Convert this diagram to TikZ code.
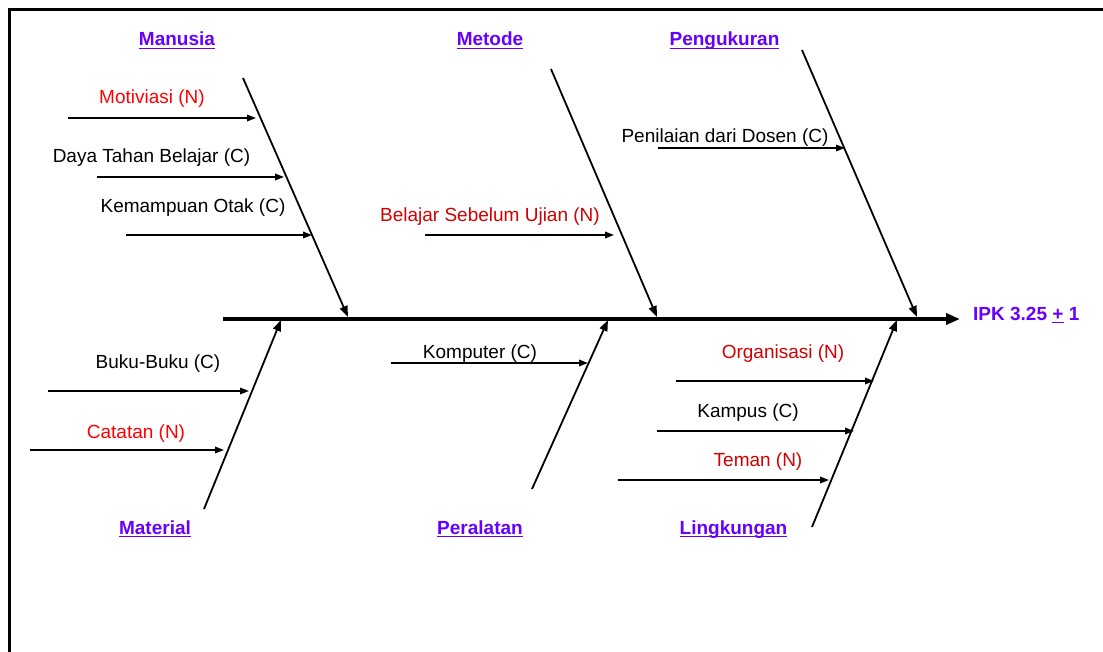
\documentclass[tikz,border=0pt]{standalone}
\usepackage{fontspec}
\setmainfont{Liberation Sans}
\usetikzlibrary{arrows.meta}
\definecolor{fbPurple}{RGB}{102,0,255}
\definecolor{fbRed}{RGB}{255,0,0}
\definecolor{fbDark}{RGB}{210,0,0}
\newcommand{\headul}[1]{\setbox0\hbox{#1}\rlap{\rule[-3.2pt]{\wd0}{1.6pt}}\box0\relax}

\begin{document}
\begin{tikzpicture}[x=1pt,y=-1pt,
  cause/.style={font=\fontsize{19}{22}\selectfont, anchor=base, inner sep=0pt},
  head/.style={font=\fontsize{19}{22}\selectfont\bfseries, anchor=base, inner sep=0pt, text=fbPurple},
  bone/.style={line width=1.8pt, -{Triangle[length=11pt,width=8pt]}},
  twig/.style={line width=1.7pt, -{Triangle[length=9pt,width=6.5pt]}}]
  \useasboundingbox (0,0) rectangle (1103,652);
  % Frame
  \draw[line width=3pt] (9,652) -- (9,10) -- (1103,10);

  % Spine and effect
  \coordinate (tail) at (223,319);
  \coordinate (effect) at (960,319);
  \draw[line width=3.5pt, -{Triangle[length=14pt,width=11pt]}] (tail) -- (effect);
  \node[head, anchor=base west] (ipk) at (973,320) {IPK 3.25 \headul{+} 1};

  % Manusia
  \node[head] (manusia) at (177,46) {\headul{Manusia}};
  \coordinate (manS) at (243,78);
  \coordinate (manE) at (348,317);
  \draw[bone] (manS) -- (manE);
  \node[cause, text=fbRed] (motiv) at (152,104) {Motiviasi (N)};
  \coordinate (motivS) at (68,118);
  \coordinate (motivE) at (256,118);
  \draw[twig] (motivS) -- (motivE);
  \node[cause] (daya) at (151.5,163) {Daya Tahan Belajar (C)};
  \coordinate (dayaS) at (97,177);
  \coordinate (dayaE) at (284,177);
  \draw[twig] (dayaS) -- (dayaE);
  \node[cause] (otak) at (193,213) {Kemampuan Otak (C)};
  \coordinate (otakS) at (126,235);
  \coordinate (otakE) at (312,235);
  \draw[twig] (otakS) -- (otakE);

  % Metode
  \node[head] (metode) at (490,46) {\headul{Metode}};
  \coordinate (metS) at (551,69);
  \coordinate (metE) at (657,317);
  \draw[bone] (metS) -- (metE);
  \node[cause, text=fbDark] (ujian) at (490,222) {Belajar Sebelum Ujian (N)};
  \coordinate (ujianS) at (425,235);
  \coordinate (ujianE) at (614,235);
  \draw[twig] (ujianS) -- (ujianE);

  % Pengukuran
  \node[head] (ukur) at (724.5,46) {\headul{Pengukuran}};
  \coordinate (ukurS) at (802,50);
  \coordinate (ukurE) at (917,317);
  \draw[bone] (ukurS) -- (ukurE);
  \node[cause] (dosen) at (725,143) {Penilaian dari Dosen (C)};
  \coordinate (dosenS) at (658,148);
  \coordinate (dosenE) at (845,148);
  \draw[twig] (dosenS) -- (dosenE);

  % Material
  \node[head] (material) at (155,534) {\headul{Material}};
  \coordinate (matS) at (204,509);
  \coordinate (matE) at (281,320);
  \draw[bone] (matS) -- (matE);
  \node[cause] (buku) at (158,368) {Buku-Buku (C)};
  \coordinate (bukuS) at (48,391);
  \coordinate (bukuE) at (249,391);
  \draw[twig] (bukuS) -- (bukuE);
  \node[cause, text=fbRed] (catatan) at (136,438) {Catatan (N)};
  \coordinate (catatanS) at (30,450);
  \coordinate (catatanE) at (224,450);
  \draw[twig] (catatanS) -- (catatanE);

  % Peralatan
  \node[head] (alat) at (480,534) {\headul{Peralatan}};
  \coordinate (alatS) at (532,489);
  \coordinate (alatE) at (608,320);
  \draw[bone] (alatS) -- (alatE);
  \node[cause] (komputer) at (480,358) {Komputer (C)};
  \coordinate (kompS) at (391,363);
  \coordinate (kompE) at (588,363);
  \draw[twig] (kompS) -- (kompE);

  % Lingkungan
  \node[head] (lingkungan) at (733.5,534) {\headul{Lingkungan}};
  \coordinate (lingS) at (812,527);
  \coordinate (lingE) at (897,320);
  \draw[bone] (lingS) -- (lingE);
  \node[cause, text=fbDark] (organisasi) at (783,358) {Organisasi (N)};
  \coordinate (orgS) at (676,381);
  \coordinate (orgE) at (874,381);
  \draw[twig] (orgS) -- (orgE);
  \node[cause] (kampus) at (748,417) {Kampus (C)};
  \coordinate (kampusS) at (657,431);
  \coordinate (kampusE) at (854,431);
  \draw[twig] (kampusS) -- (kampusE);
  \node[cause, text=fbDark] (teman) at (758,466) {Teman (N)};
  \coordinate (temanS) at (618,480);
  \coordinate (temanE) at (829,480);
  \draw[twig] (temanS) -- (temanE);
\end{tikzpicture}
\end{document}
